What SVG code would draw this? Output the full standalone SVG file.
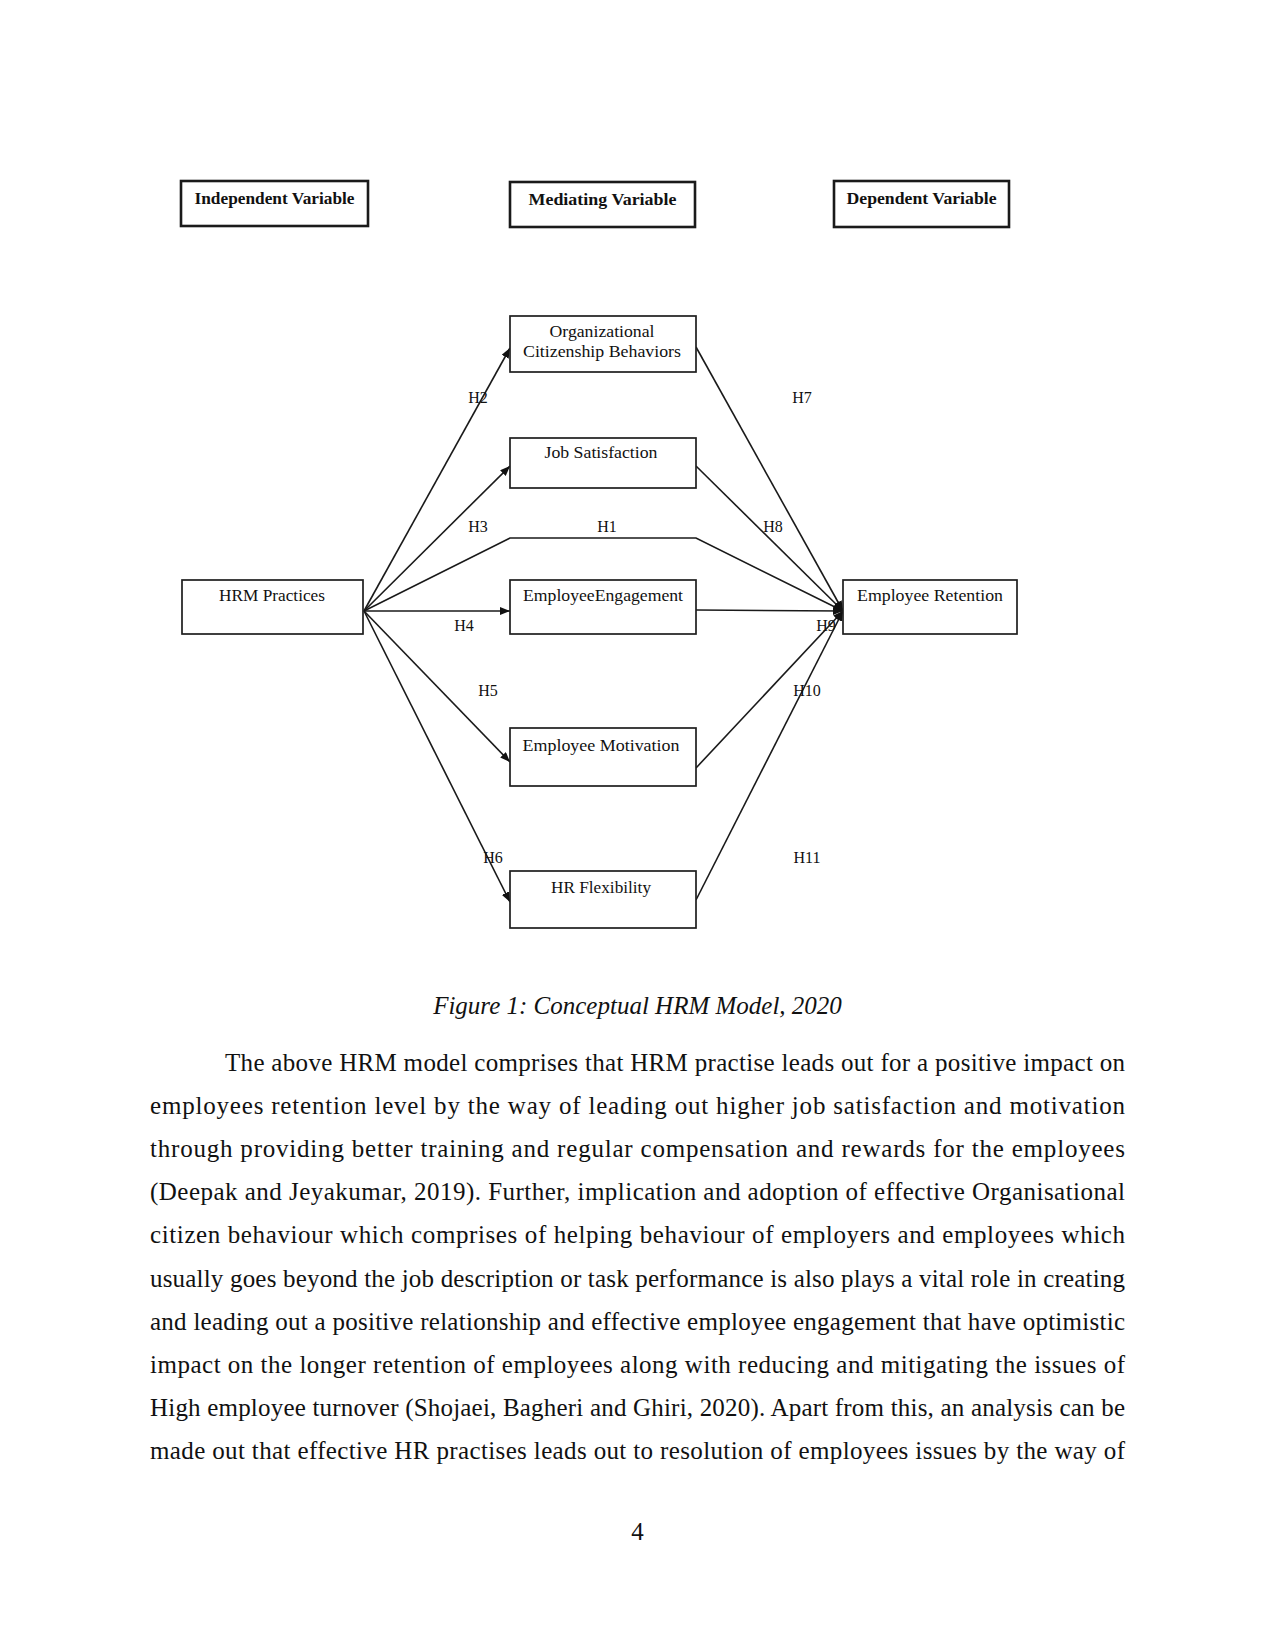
<svg xmlns="http://www.w3.org/2000/svg" width="1275" height="1651" viewBox="0 0 1275 1651">
<defs>
<style>
.hdr{fill:#fff;stroke:#1a1a1a;stroke-width:2.6}
.box{fill:#fff;stroke:#1e1e1e;stroke-width:1.7}
.ht{font-family:"Liberation Serif",serif;font-weight:bold;font-size:17px;fill:#111;text-anchor:middle}
.bt{font-family:"Liberation Serif",serif;font-size:17px;fill:#111;text-anchor:middle}
.lb{font-family:"Liberation Serif",serif;font-size:16px;fill:#111;text-anchor:middle}
.ln{fill:none;stroke:#1a1a1a;stroke-width:1.6}
.body{font-family:"Liberation Serif",serif;font-size:25px;fill:#111}
</style>
<marker id="arr" viewBox="0 0 10 8" refX="10" refY="4" markerWidth="10" markerHeight="8" markerUnits="userSpaceOnUse" orient="auto">
<path d="M0,0 L10,4 L0,8 z" fill="#111"/>
</marker>
</defs>
<rect width="1275" height="1651" fill="#fff"/>

<g id="hdr-independent"><rect class="hdr" x="181" y="181" width="187" height="45"/><text class="ht" x="274.5" y="204" textLength="160" lengthAdjust="spacingAndGlyphs">Independent Variable</text></g>
<g id="hdr-mediating"><rect class="hdr" x="510" y="182" width="185" height="45"/><text class="ht" x="602.5" y="205" textLength="148" lengthAdjust="spacingAndGlyphs">Mediating Variable</text></g>
<g id="hdr-dependent"><rect class="hdr" x="834" y="181" width="175" height="46"/><text class="ht" x="921.5" y="204" textLength="150" lengthAdjust="spacingAndGlyphs">Dependent Variable</text></g>

<g id="connectors">
<line class="ln" x1="364" y1="611" x2="510" y2="348" marker-end="url(#arr)"/>
<line class="ln" x1="364" y1="611" x2="510" y2="466" marker-end="url(#arr)"/>
<polyline class="ln" points="364,611 510,538 696,538 843,611" marker-end="url(#arr)"/>
<line class="ln" x1="364" y1="611" x2="510" y2="611" marker-end="url(#arr)"/>
<line class="ln" x1="364" y1="611" x2="510" y2="762" marker-end="url(#arr)"/>
<line class="ln" x1="364" y1="611" x2="510" y2="902" marker-end="url(#arr)"/>
<line class="ln" x1="696" y1="347" x2="843" y2="611" marker-end="url(#arr)"/>
<line class="ln" x1="696" y1="466" x2="843" y2="611" marker-end="url(#arr)"/>
<line class="ln" x1="696" y1="610" x2="843" y2="611" marker-end="url(#arr)"/>
<line class="ln" x1="696" y1="768" x2="843" y2="611" marker-end="url(#arr)"/>
<line class="ln" x1="696" y1="900" x2="843" y2="611" marker-end="url(#arr)"/>
<g id="edge-labels">
<text class="lb" x="478" y="403">H2</text>
<text class="lb" x="478" y="532">H3</text>
<text class="lb" x="607" y="532">H1</text>
<text class="lb" x="464" y="631">H4</text>
<text class="lb" x="488" y="696">H5</text>
<text class="lb" x="493" y="863">H6</text>
<text class="lb" x="802" y="403">H7</text>
<text class="lb" x="773" y="532">H8</text>
<text class="lb" x="826" y="631">H9</text>
<text class="lb" x="807" y="696">H10</text>
<text class="lb" x="807" y="863">H11</text>
</g>
</g>

<g id="node-hrm"><rect class="box" x="182" y="580" width="181" height="54"/><text class="bt" x="272" y="601" textLength="106" lengthAdjust="spacingAndGlyphs">HRM Practices</text></g>
<g id="node-ocb"><rect class="box" x="510" y="316" width="186" height="56"/><text class="bt" x="602" y="337" textLength="105" lengthAdjust="spacingAndGlyphs">Organizational</text><text class="bt" x="602" y="357" textLength="158" lengthAdjust="spacingAndGlyphs">Citizenship Behaviors</text></g>
<g id="node-js"><rect class="box" x="510" y="438" width="186" height="50"/><text class="bt" x="601" y="458" textLength="113" lengthAdjust="spacingAndGlyphs">Job Satisfaction</text></g>
<g id="node-ee"><rect class="box" x="510" y="580" width="186" height="54"/><text class="bt" x="603" y="601" textLength="160" lengthAdjust="spacingAndGlyphs">EmployeeEngagement</text></g>
<g id="node-em"><rect class="box" x="510" y="728" width="186" height="58"/><text class="bt" x="601" y="751" textLength="157" lengthAdjust="spacingAndGlyphs">Employee Motivation</text></g>
<g id="node-hrf"><rect class="box" x="510" y="871" width="186" height="57"/><text class="bt" x="601" y="893" textLength="100" lengthAdjust="spacingAndGlyphs">HR Flexibility</text></g>
<g id="node-er"><rect class="box" x="843" y="580" width="174" height="54"/><text class="bt" x="930" y="601" textLength="146" lengthAdjust="spacingAndGlyphs">Employee Retention</text></g>

<text class="body" x="637.5" y="1014" font-style="italic" text-anchor="middle">Figure 1: Conceptual HRM Model, 2020</text>

<g class="body">
<text x="225" y="1071" textLength="900" lengthAdjust="spacing">The above HRM model comprises that HRM practise leads out for a positive impact on</text>
<text x="150" y="1114.1" textLength="975" lengthAdjust="spacing">employees retention level by the way of leading out higher job satisfaction and motivation</text>
<text x="150" y="1157.2" textLength="975" lengthAdjust="spacing">through providing better training and regular compensation and rewards for the employees</text>
<text x="150" y="1200.3" textLength="975" lengthAdjust="spacing">(Deepak and Jeyakumar, 2019). Further, implication and adoption of effective Organisational</text>
<text x="150" y="1243.4" textLength="975" lengthAdjust="spacing">citizen behaviour which comprises of helping behaviour of employers and employees which</text>
<text x="150" y="1286.5" textLength="975" lengthAdjust="spacing">usually goes beyond the job description or task performance is also plays a vital role in creating</text>
<text x="150" y="1329.6" textLength="975" lengthAdjust="spacing">and leading out a positive relationship and effective employee engagement that have optimistic</text>
<text x="150" y="1372.7" textLength="975" lengthAdjust="spacing">impact on the longer retention of employees along with reducing and mitigating the issues of</text>
<text x="150" y="1415.8" textLength="975" lengthAdjust="spacing">High employee turnover (Shojaei, Bagheri and Ghiri, 2020). Apart from this, an analysis can be</text>
<text x="150" y="1458.9" textLength="975" lengthAdjust="spacing">made out that effective HR practises leads out to resolution of employees issues by the way of</text>
</g>
<text class="body" x="637.5" y="1540" text-anchor="middle">4</text>
</svg>
